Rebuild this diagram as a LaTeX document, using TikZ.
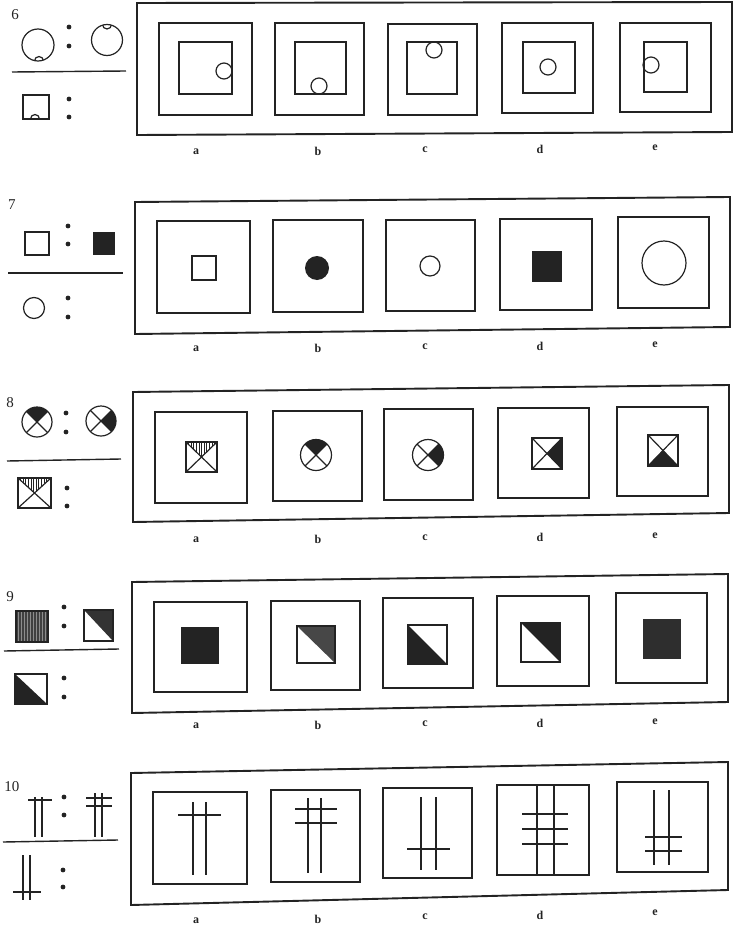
\documentclass[tikz,border=0pt]{standalone}
\usepackage{fontspec}
\setmainfont{Liberation Serif}
\usetikzlibrary{calc}
\definecolor{ink}{HTML}{232323}
\begin{document}
\begin{tikzpicture}[x=1pt, y=-1pt,
  frame/.style={draw=ink, line width=1.9pt},
  cell/.style={draw=ink, line width=1.4pt},
  fig/.style={draw=ink, line width=1.2pt},
  bar/.style={draw=ink, line width=1.5pt},
  rule/.style={draw=ink, line width=1.4pt},
  dot/.style={circle, fill=ink, inner sep=0pt, minimum size=4.8pt},
  num/.style={font=\fontsize{15}{15}\selectfont, text=ink},
  lbl/.style={font=\fontsize{12}{12}\selectfont\bfseries, text=ink}]
\useasboundingbox (0,0) rectangle (736,931);

% frames round the five answers of each row
\draw[frame] (137,3) -- (732,2) -- (732,132) -- (137,135) -- cycle;
\draw[frame] (135,202) -- (730,197) -- (730,327) -- (135,334) -- cycle;
\draw[frame] (133,392) -- (729,385) -- (729,513) -- (133,522) -- cycle;
\draw[frame] (132,582) -- (728,574) -- (728,702) -- (132,713) -- cycle;
\draw[frame] (131,773) -- (728,762) -- (728,890) -- (131,905) -- cycle;

% answer cells
\foreach \x/\y/\X/\Y in {159/23/252/115, 275/23/364/115, 388/24/477/115, 502/23/593/113, 620/23/711/112,
  157/221/250/313, 273/220/363/312, 386/220/475/311, 500/219/592/310, 618/217/709/308,
  155/412/247/503, 273/411/362/501, 384/409/473/500, 498/408/589/498, 617/407/708/496,
  154/602/247/692, 271/601/360/690, 383/598/473/688, 497/596/589/686, 616/593/707/683,
  153/792/247/884, 271/790/360/882, 383/788/472/878, 497/785/589/875, 617/782/708/872}
  {\draw[cell] (\x,\y) rectangle (\X,\Y);}

% question side: numbers, rules, colons
\node[num] (n6) at (15,15) {6};
\node[num] (n7) at (12,205) {7};
\node[num] (n8) at (10,403) {8};
\node[num] (n9) at (10,597) {9};
\node[num] (n10) at (12,787) {10};
\draw[rule] (12,72) -- (126,71);
\draw[rule] (8,273) -- (123,273);
\draw[rule] (7,461) -- (121,459);
\draw[rule] (4,651) -- (119,649);
\draw[rule] (3,842) -- (118,840);
\foreach \x/\y [count=\i] in {69/27, 69/46, 69/99, 69/117, 68/226, 68/244, 68/298, 68/317,
  66/413, 66/432, 67/488, 67/506, 64/607, 64/626, 64/678, 64/697, 64/797, 64/815, 63/870, 63/887}
  {\node[dot] (d\i) at (\x,\y) {};}

% labels a--e
\foreach \r/\y/\dy in {6/152/-1, 7/349/-1, 8/540/-1, 9/726/-1, 10/921/-2}{
  \foreach \x/\t [count=\k] in {196/a, 318/b, 425/c, 540/d, 655/e}
    {\node[lbl] (l\r\t) at (\x,{\y+\dy*(\k-1)}) {\t};}
}

% ---- row 6
\draw[fig] (38,45) circle (16);
\begin{scope}\clip (38,45) circle (16); \draw[fig] (39,61) circle (4.5);\end{scope}
\draw[fig] (107,40) circle (15.5);
\begin{scope}\clip (107,40) circle (15.5); \draw[fig] (107,24.5) circle (4.5);\end{scope}
\draw[fig] (23,95) rectangle (49,119);
\begin{scope}\clip (23,95) rectangle (49,119); \draw[fig] (35,119) circle (4.5);\end{scope}
\foreach \x/\y/\X/\Y in {179/42/232/94, 295/42/346/94, 407/42/457/94, 523/42/575/93, 644/42/687/92}
  {\draw[fig] (\x,\y) rectangle (\X,\Y);}
\foreach \x/\y in {224/71, 319/86, 434/50, 548/67, 651/65}
  {\draw[fig] (\x,\y) circle (8);}

% ---- row 7
\draw[fig] (25,232) rectangle (49,255);
\fill[ink] (93,232) rectangle (115,255);
\draw[fig] (34,308) circle (10.5);
\draw[fig] (192,256) rectangle (216,280);
\fill[ink] (317,268) circle (12);
\draw[fig] (430,266) circle (10);
\fill[ink] (532,251) rectangle (562,282);
\draw[fig] (664,263) circle (22);

% ---- row 8
% top quarters
\begin{scope}\clip (37,422) -- (7,392) -- (67,392) -- cycle; \fill[ink] (37,422) circle (15);\end{scope}
\begin{scope}\clip (316,455) -- (286,425) -- (346,425) -- cycle; \fill[ink] (316,455) circle (15.5);\end{scope}
% right quarters
\begin{scope}\clip (101,421) -- (131,391) -- (131,451) -- cycle; \fill[ink] (101,421) circle (15);\end{scope}
\begin{scope}\clip (428,455) -- (458,425) -- (458,485) -- cycle; \fill[ink] (428,455) circle (15.5);\end{scope}
\foreach \cx/\cy/\rr in {37/422/15, 101/421/15, 316/455/15.5, 428/455/15.5}{
  \draw[fig] (\cx,\cy) circle (\rr);
  \draw[fig] ($(\cx,\cy)+(45:\rr)$) -- ($(\cx,\cy)+(225:\rr)$);
  \draw[fig] ($(\cx,\cy)+(135:\rr)$) -- ($(\cx,\cy)+(315:\rr)$);
}
% hatched tops of the crossed squares
\foreach \x/\y/\X/\Y in {18/478/51/508, 186/442/217/472}{
  \begin{scope}
    \clip (\x,\y) -- (\X,\y) -- ({(\x+\X)/2},{(\y+\Y)/2}) -- cycle;
    \foreach \h in {0,2.6,...,34} {\draw[ink, line width=0.8pt] ({\x+\h},\y) -- ({\x+\h},\Y);}
  \end{scope}
}
\fill[ink] (562,438) -- (562,469) -- (547,453.5) -- cycle;
\fill[ink] (648,466) -- (678,466) -- (663,450.5) -- cycle;
\foreach \x/\y/\X/\Y in {18/478/51/508, 186/442/217/472, 532/438/562/469, 648/435/678/466}{
  \draw[fig] (\x,\y) rectangle (\X,\Y);
  \draw[fig] (\x,\y) -- (\X,\Y);
  \draw[fig] (\X,\y) -- (\x,\Y);
}

% ---- row 9
\fill[black!75] (16,611) rectangle (48,642);
\foreach \h in {18,21,...,47} {\draw[black!45, line width=0.5pt] (\h,612) -- (\h,641);}
\draw[fig] (16,611) rectangle (48,642);
\fill[black!80] (84,610) -- (113,610) -- (113,641) -- cycle;
\draw[fig] (84,610) rectangle (113,641);
\fill[ink] (15,674) -- (47,704) -- (15,704) -- cycle;
\draw[fig] (15,674) rectangle (47,704);
\fill[ink] (181,627) rectangle (219,664);
\fill[black!72] (297,626) -- (335,626) -- (335,663) -- cycle;
\draw[fig] (297,626) rectangle (335,663);
\fill[ink] (408,625) -- (447,664) -- (408,664) -- cycle;
\draw[fig] (408,625) rectangle (447,664);
\fill[ink] (521,623) -- (560,623) -- (560,662) -- cycle;
\draw[fig] (521,623) rectangle (560,662);
\fill[black!82] (643,619) rectangle (681,659);

% ---- row 10
\foreach \x/\ya/\yb in {35/797/837, 42/797/837, 95/793/837, 102/793/837, 23/855/900, 30/855/900,
  193/802/875, 206/802/875, 308/798/873, 321/798/873, 421/797/870, 436/797/870,
  537/786/875, 554/786/875, 654/790/865, 669/790/865}
  {\draw[bar] (\x,\ya) -- (\x,\yb);}
\foreach \y/\xa/\xb in {800/28/52, 798/86/112, 806/86/112, 892/13/41,
  815/178/221, 809/295/337, 823/295/337, 849/407/450,
  814/522/568, 829/522/568, 844/522/568, 837/645/682, 851/645/682}
  {\draw[bar] (\xa,\y) -- (\xb,\y);}
\end{tikzpicture}
\end{document}
